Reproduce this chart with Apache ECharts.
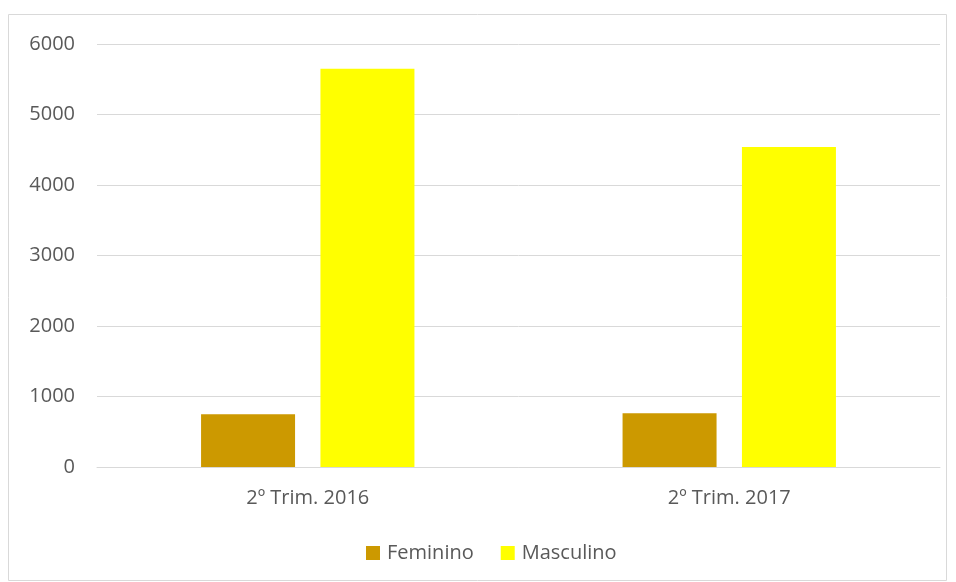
<!DOCTYPE html>
<html>
<head>
<meta charset="utf-8">
<script src="https://cdn.jsdelivr.net/npm/echarts@6/dist/echarts.min.js"></script>
<style>
html,body{margin:0;padding:0;background:#fff;}
#main{width:956px;height:582px;}
</style>
</head>
<body>
<div id="main"></div>
<script>
var categories = ['2º Trim. 2016', '2º Trim. 2017'];
var feminino = [750, 762];
var masculino = [5650, 4540];
var yTicks = [0, 1000, 2000, 3000, 4000, 5000, 6000];

var chart = echarts.init(document.getElementById('main'));
var txt = '#595959';
var fnt = 'Open Sans, Noto Sans, sans-serif';
chart.setOption({
    animation: false,
    graphic: [{
        type: 'rect',
        shape: {x: 8.5, y: 14.5, width: 938, height: 566},
        style: {fill: 'none', stroke: '#d9d9d9', lineWidth: 1}
    }],
    grid: {left: 97, right: 16, top: 44, bottom: 115},
    legend: {
        bottom: 19,
        left: 366,
        padding: 0,
        itemWidth: 14,
        itemHeight: 14,
        itemGap: 27,
        icon: 'rect',
        textStyle: {color: txt, fontSize: 20, fontFamily: fnt, padding: [0, 0, 0, 2]},
        data: ['Feminino', 'Masculino']
    },
    xAxis: {
        type: 'category',
        data: categories,
        axisLine: {lineStyle: {color: '#d9d9d9'}},
        axisTick: {show: false},
        axisLabel: {color: txt, fontSize: 20, fontFamily: fnt, margin: 21}
    },
    yAxis: {
        type: 'value',
        min: yTicks[0],
        max: yTicks[yTicks.length - 1],
        interval: 1000,
        axisLine: {show: false},
        axisTick: {show: false},
        axisLabel: {color: txt, fontSize: 20, fontFamily: fnt, margin: 22, formatter: function (v) { return String(v); }},
        splitLine: {lineStyle: {color: '#d9d9d9'}}
    },
    series: [{
        name: 'Feminino',
        type: 'bar',
        data: feminino,
        barWidth: 94,
        barGap: '27%',
        itemStyle: {color: '#cc9900'}
    }, {
        name: 'Masculino',
        type: 'bar',
        data: masculino,
        barWidth: 94,
        barGap: '27%',
        itemStyle: {color: '#ffff00'}
    }]
});
</script>
</body>
</html>
